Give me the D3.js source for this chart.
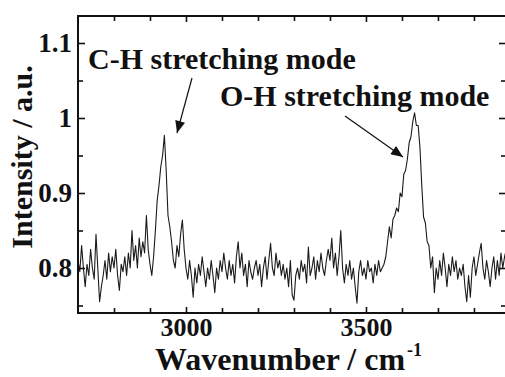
<!DOCTYPE html>
<html>
<head>
<meta charset="utf-8">
<script src="https://cdn.jsdelivr.net/npm/d3@7"></script>
<style>
  html, body { margin: 0; padding: 0; background: #fff; }
  svg { display: block; }
  text { font-family: "Liberation Serif", "Times New Roman", serif; font-weight: bold; fill: #111; }
</style>
</head>
<body>
<svg id="chart"></svg>
<script>
// Dimensions
const width = 505;
const height = 377;

// Spectrum: one value every 5 cm-1 from 2700 cm-1
const wnStart = 2700;
const wnStep = 5;
const intensity = [
  // 2700-2745
  0.81, 0.795, 0.83, 0.80, 0.775, 0.805, 0.79, 0.825, 0.80, 0.785,
  // 2750-2795
  0.845, 0.80, 0.755, 0.775, 0.79, 0.81, 0.785, 0.82, 0.795, 0.815,
  // 2800-2845
  0.80, 0.825, 0.79, 0.77, 0.805, 0.795, 0.815, 0.79, 0.82, 0.80,
  // 2850-2895
  0.85, 0.81, 0.83, 0.80, 0.84, 0.815, 0.835, 0.82, 0.87, 0.825,
  // 2900-2945 (C-H peak)
  0.805, 0.79, 0.815, 0.85, 0.89, 0.91, 0.935, 0.95, 0.977, 0.93,
  // 2950-2995
  0.87, 0.855, 0.835, 0.81, 0.80, 0.83, 0.815, 0.845, 0.864, 0.825,
  // 3000-3045
  0.80, 0.785, 0.81, 0.79, 0.761, 0.80, 0.78, 0.805, 0.79, 0.815,
  // 3050-3095
  0.795, 0.775, 0.80, 0.785, 0.81, 0.79, 0.767, 0.80, 0.785, 0.81,
  // 3100-3145
  0.795, 0.82, 0.80, 0.785, 0.81, 0.79, 0.805, 0.78, 0.815, 0.835,
  // 3150-3195
  0.80, 0.82, 0.79, 0.805, 0.775, 0.81, 0.795, 0.785, 0.80, 0.81,
  // 3200-3245
  0.79, 0.805, 0.775, 0.80, 0.815, 0.785, 0.81, 0.833, 0.80, 0.79,
  // 3250-3295
  0.82, 0.80, 0.81, 0.79, 0.805, 0.785, 0.80, 0.775, 0.81, 0.764,
  // 3300-3345
  0.757, 0.79, 0.80, 0.785, 0.81, 0.795, 0.805, 0.78, 0.828, 0.79,
  // 3350-3395
  0.80, 0.815, 0.785, 0.81, 0.795, 0.82, 0.80, 0.79, 0.81, 0.825,
  // 3400-3445
  0.81, 0.84, 0.80, 0.82, 0.79, 0.815, 0.85, 0.80, 0.78, 0.805,
  // 3450-3495
  0.79, 0.81, 0.785, 0.80, 0.775, 0.753, 0.795, 0.81, 0.79, 0.80,
  // 3500-3545
  0.785, 0.81, 0.795, 0.80, 0.78, 0.805, 0.79, 0.81, 0.795, 0.80,
  // 3550-3595 (O-H band rises)
  0.805, 0.815, 0.835, 0.855, 0.84, 0.865, 0.87, 0.88, 0.875, 0.90,
  // 3600-3645
  0.895, 0.925, 0.93, 0.945, 0.967, 0.975, 0.995, 1.007, 0.99, 0.99,
  // 3650-3695
  0.96, 0.91, 0.868, 0.86, 0.835, 0.83, 0.80, 0.815, 0.767, 0.80,
  // 3700-3745
  0.785, 0.81, 0.79, 0.82, 0.80, 0.775, 0.805, 0.79, 0.815, 0.795,
  // 3750-3795
  0.81, 0.785, 0.80, 0.79, 0.805, 0.775, 0.755, 0.79, 0.761, 0.80,
  // 3800-3845
  0.815, 0.79, 0.805, 0.82, 0.833, 0.80, 0.785, 0.81, 0.795, 0.775,
  // 3850-3890
  0.80, 0.815, 0.785, 0.81, 0.79, 0.82, 0.80, 0.815, 0.825
];

// Ticks
const xMajorTicks = [3000, 3500];
const xMinorTicks = [2800, 2900, 3100, 3200, 3300, 3400, 3600, 3700, 3800];
const yMajorTicks = [0.8, 0.9, 1, 1.1];
const yMinorTicks = [0.75, 0.85, 0.95, 1.05];

// Annotations
const labels = [
  { text: "C-H stretching mode", x: 88, y: 69 },
  { text: "O-H stretching mode", x: 220, y: 106 }
];
const arrows = [
  { x1: 192, y1: 78, x2: 177, y2: 133 },
  { x1: 345, y1: 116, x2: 403, y2: 157 }
];

const spectrum = intensity.map((v, i) => ({ wn: wnStart + i * wnStep, v }));

const plot = { left: 78, right: 506, top: 16, bottom: 313 };

const svg = d3.select("#chart")
    .attr("width", width)
    .attr("height", height);

const x = d3.scaleLinear().domain([2700, 3889]).range([plot.left, plot.right]);
const y = d3.scaleLinear().domain([0.74, 1.136]).range([plot.bottom, plot.top]);

// Spectrum line
svg.append("path")
    .datum(spectrum)
    .attr("fill", "none")
    .attr("stroke", "#1a1a1a")
    .attr("stroke-width", 1.1)
    .attr("stroke-linejoin", "round")
    .attr("d", d3.line().x(d => x(d.wn)).y(d => y(d.v)));

// Axes (ticks pointing inward)
const axisFont = 27;

svg.append("g").attr("transform", `translate(${plot.left},0)`)
    .call(d3.axisLeft(y).tickValues(yMajorTicks).tickSize(-7).tickPadding(6)
        .tickFormat(d3.format("~g")));
svg.append("g").attr("transform", `translate(${plot.left},0)`)
    .call(d3.axisLeft(y).tickValues(yMinorTicks).tickSize(-5).tickFormat(""));
svg.append("g").attr("transform", `translate(${plot.right},0)`)
    .call(d3.axisRight(y).tickValues(yMajorTicks).tickSize(-7).tickFormat(""));
svg.append("g").attr("transform", `translate(${plot.right},0)`)
    .call(d3.axisRight(y).tickValues(yMinorTicks).tickSize(-5).tickFormat(""));

svg.append("g").attr("class", "x-major").attr("transform", `translate(0,${plot.bottom})`)
    .call(d3.axisBottom(x).tickValues(xMajorTicks).tickSize(-6).tickPadding(5)
        .tickFormat(d3.format("d")));
svg.append("g").attr("transform", `translate(0,${plot.bottom})`)
    .call(d3.axisBottom(x).tickValues(xMinorTicks).tickSize(-5).tickFormat(""));
svg.append("g").attr("transform", `translate(0,${plot.top})`)
    .call(d3.axisTop(x).tickValues(xMajorTicks).tickSize(-6).tickFormat(""));
svg.append("g").attr("transform", `translate(0,${plot.top})`)
    .call(d3.axisTop(x).tickValues(xMinorTicks).tickSize(-5).tickFormat(""));

svg.selectAll(".domain").remove();
svg.selectAll(".tick line").attr("stroke", "#111").attr("stroke-width", 1.6);
svg.selectAll(".tick text")
    .style("font-family", "'Liberation Serif', 'Times New Roman', serif")
    .style("font-weight", "bold")
    .style("font-size", axisFont + "px")
    .attr("fill", "#111");
svg.selectAll(".x-major .tick text").style("font-size", "26px");

// Frame
svg.append("rect")
    .attr("x", plot.left)
    .attr("y", plot.top)
    .attr("width", plot.right - plot.left)
    .attr("height", plot.bottom - plot.top)
    .attr("fill", "none")
    .attr("stroke", "#111")
    .attr("stroke-width", 2);

// Axis titles
const xTitle = svg.append("text")
    .attr("x", 155)
    .attr("y", 370)
    .style("font-size", "32px");
xTitle.append("tspan").text("Wavenumber / cm");
xTitle.append("tspan").attr("dy", -14).attr("dx", 2).style("font-size", "18px").text("-1");

svg.append("text")
    .attr("transform", "translate(32,157) rotate(-90)")
    .attr("text-anchor", "middle")
    .style("font-size", "30px")
    .text("Intensity / a.u.");

// Annotations
svg.selectAll(".note")
    .data(labels)
    .join("text")
    .attr("class", "note")
    .attr("x", d => d.x)
    .attr("y", d => d.y)
    .style("font-size", "30px")
    .text(d => d.text);

svg.append("defs").append("marker")
    .attr("id", "head")
    .attr("markerUnits", "userSpaceOnUse")
    .attr("viewBox", "0 0 12 10")
    .attr("refX", 12)
    .attr("refY", 5)
    .attr("markerWidth", 13)
    .attr("markerHeight", 10)
    .attr("orient", "auto")
    .append("path")
    .attr("d", "M0,0 L12,5 L0,10 Z")
    .attr("fill", "#111");

svg.selectAll(".arrow")
    .data(arrows)
    .join("line")
    .attr("class", "arrow")
    .attr("x1", d => d.x1)
    .attr("y1", d => d.y1)
    .attr("x2", d => d.x2)
    .attr("y2", d => d.y2)
    .attr("stroke", "#111")
    .attr("stroke-width", 1.2)
    .attr("marker-end", "url(#head)");
</script>
</body>
</html>
